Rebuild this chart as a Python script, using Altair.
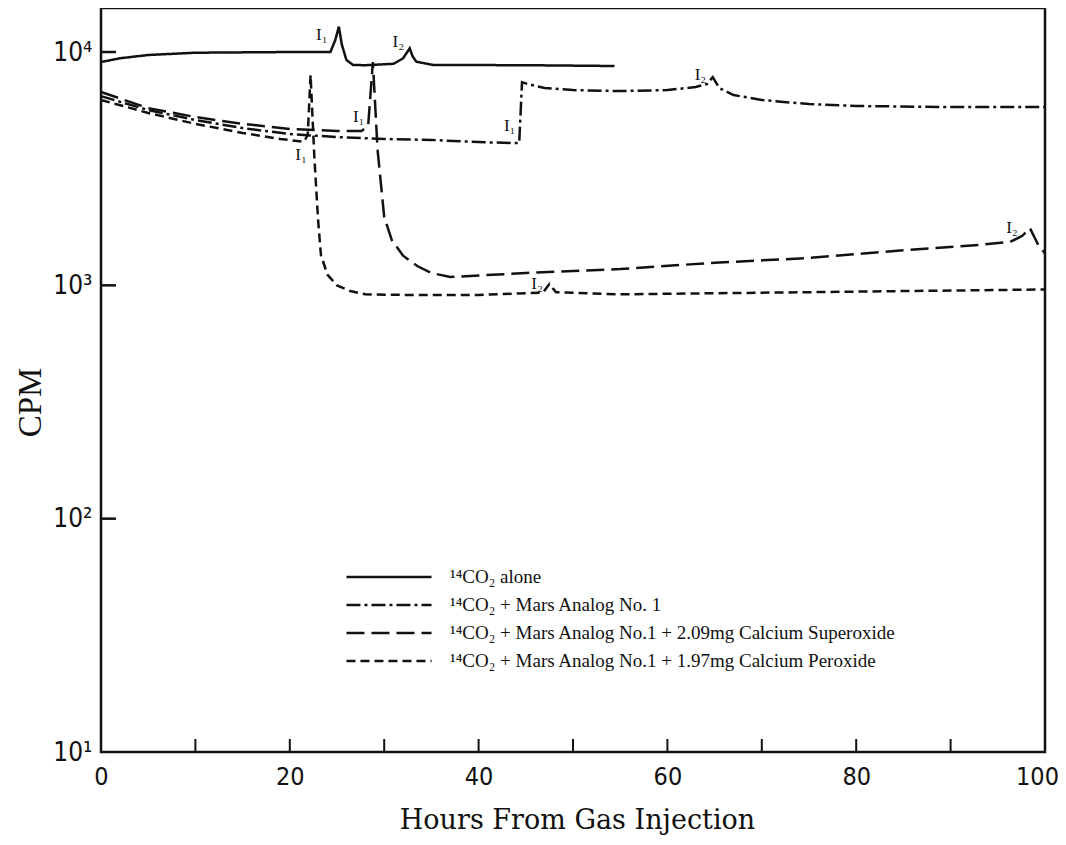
import altair as alt
import pandas as pd

# ---- data ----
series_names = [
    "¹⁴CO₂ alone",
    "¹⁴CO₂ + Mars Analog No. 1",
    "¹⁴CO₂ + Mars Analog No.1 + 2.09mg Calcium Superoxide",
    "¹⁴CO₂ + Mars Analog No.1 + 1.97mg Calcium Peroxide",
]

alone_h = [0, 2, 5, 10, 20, 24.3, 24.8, 25.2, 25.5, 26.0, 26.7, 28, 31, 32, 32.7, 33.0, 33.4, 35.2, 45, 54.4]
alone_v = [9060, 9400, 9710, 9930, 10000, 10000, 11200, 12840, 10800, 9240, 8800, 8780, 8900, 9400, 10370, 9600, 9090, 8800, 8780, 8710]

analog_h = [0, 5, 10, 15, 20, 25, 30, 35, 40, 44.3, 44.6, 45.2, 47, 50, 55, 60, 63, 64.2, 64.8, 65.5, 67, 70, 75, 80, 90, 100]
analog_v = [6470, 5640, 5110, 4720, 4450, 4320, 4240, 4200, 4110, 4070, 7430, 7290, 7010, 6870, 6800, 6870, 7080, 7290, 7810, 7010, 6540, 6230, 5980, 5870, 5810, 5810]

super_h = [0, 5, 10, 15, 20, 25, 27.6, 28.3, 28.8, 29.3, 30.0, 30.8, 32.0, 33.5, 35, 37, 45, 55, 65, 75, 85, 93, 96.3, 97.6, 98.4, 99.3, 100]
super_v = [6740, 5750, 5265, 4920, 4680, 4590, 4590, 4820, 9060, 3800, 1963, 1565, 1340, 1210, 1130, 1085, 1130, 1175, 1250, 1310, 1415, 1490, 1535, 1630, 1760, 1485, 1370]

perox_h = [0, 5, 10, 15, 19, 21.5, 21.9, 22.2, 22.6, 23.0, 23.3, 24.0, 25.0, 26.4, 28, 32, 40, 46.8, 47.5, 48.2, 55, 70, 85, 100]
perox_v = [6230, 5480, 4920, 4500, 4240, 4120, 4410, 7970, 3550, 1900, 1345, 1110, 1000, 945, 915, 910, 910, 930, 1013, 935, 915, 930, 945, 960]

dash_patterns = [[1, 0], [14, 4, 3, 4], [18, 7], [9, 5]]

# annotation labels (injection markers)
ann_text = ["I₁", "I₂", "I₁", "I₁", "I₁", "I₂", "I₂", "I₂"]
ann_h = [23.4, 31.5, 27.3, 21.2, 43.3, 63.5, 96.5, 46.2]
ann_v = [11830, 11040, 5260, 3610, 4810, 7960, 1757, 1010]

x_tick_values = [10, 20, 30, 40, 50, 60, 70, 80, 90]
y_tick_values = [100, 1000, 10000]

# ---- build tables ----
rows = []
for name, hs, vs in zip(series_names, [alone_h, analog_h, super_h, perox_h],
                        [alone_v, analog_v, super_v, perox_v]):
    for i, (h, v) in enumerate(zip(hs, vs)):
        rows.append({"series": name, "hours": h, "cpm": v, "i": i})
df = pd.DataFrame(rows)
ann = pd.DataFrame({"t": ann_text, "hours": ann_h, "cpm": ann_v})
xt = pd.DataFrame({"hours": x_tick_values})
yt = pd.DataFrame({"cpm": y_tick_values})

W, H = 944, 744
SERIF = "Liberation Serif, DejaVu Serif, serif"
NARROW = "Liberation Sans Narrow, DejaVu Sans Condensed, Liberation Sans, sans-serif"

xscale = alt.Scale(domain=[0, 100], nice=False, zero=False)
yscale = alt.Scale(type="log", domain=[10, 15440], nice=False)

xaxis = alt.Axis(
    values=list(range(0, 101, 10)),
    labelExpr="datum.value % 20 == 0 ? datum.label : ''",
    ticks=False, domain=False, grid=False, labelFlush=False,
    labelOffset={"condition": {"test": "datum.value == 100", "value": -8}, "value": 0},
    labelFont=NARROW, labelFontSize=25, labelColor="#111", labelPadding=12,
    title="Hours From Gas Injection", titleFont="DejaVu Serif", titleFontSize=27,
    titleFontWeight="normal", titleColor="#111", titleX=476, titleY=68,
    titleBaseline="middle",
)
yaxis = alt.Axis(
    values=[10, 100, 1000, 10000],
    labelExpr="datum.value == 10 ? '10¹' : datum.value == 100 ? '10²' : datum.value == 1000 ? '10³' : '10⁴'",
    ticks=False, domain=False, grid=False, labelFlush=False,
    labelFont=NARROW, labelFontSize=26, labelColor="#111", labelPadding=9,
    title="CPM", titleFont=SERIF, titleFontSize=33, titleFontWeight="normal",
    titleColor="#111", titleX=-71, titleY=394, titleBaseline="middle",
)

X = alt.X("hours:Q", scale=xscale, axis=xaxis, title="Hours From Gas Injection")
Y = alt.Y("cpm:Q", scale=yscale, axis=yaxis, title="CPM")

lines = alt.Chart(df).mark_line(color="#111", strokeWidth=2.5).encode(
    x=X,
    y=Y,
    order=alt.Order("i:Q"),
    detail="series:N",
    strokeDash=alt.StrokeDash(
        "series:N",
        scale=alt.Scale(domain=series_names, range=dash_patterns),
        legend=alt.Legend(
            orient="none", legendX=276, legendY=557, title=None,
            symbolType="M-4,0L4,0", symbolSize=452, symbolStrokeWidth=2.5,
            symbolStrokeColor="#111", labelFont=SERIF, labelFontSize=19,
            labelColor="#111", labelOffset=49, labelLimit=700, rowPadding=6,
            padding=0,
        ),
    ),
)

texts = alt.Chart(ann).mark_text(font=SERIF, fontSize=17, color="#111").encode(
    x=X, y=Y, text="t:N",
)

xticks = alt.Chart(xt).mark_rule(color="#111", strokeWidth=2).encode(
    x=X, y=alt.value(H), y2=alt.value(H - 13),
)
yticks = alt.Chart(yt).mark_rule(color="#111", strokeWidth=2.5).encode(
    y=Y, x=alt.value(0), x2=alt.value(15),
)

chart = alt.layer(lines, texts, xticks, yticks).properties(
    width=W, height=H,
    autosize=alt.AutoSizeParams(type="none"),
    padding={"left": 93, "top": 0, "right": 13, "bottom": 85},
    background="white",
).configure_view(stroke="#111", strokeWidth=2.5)

chart.save("out.html", embed_options={"renderer": "svg", "actions": False})
